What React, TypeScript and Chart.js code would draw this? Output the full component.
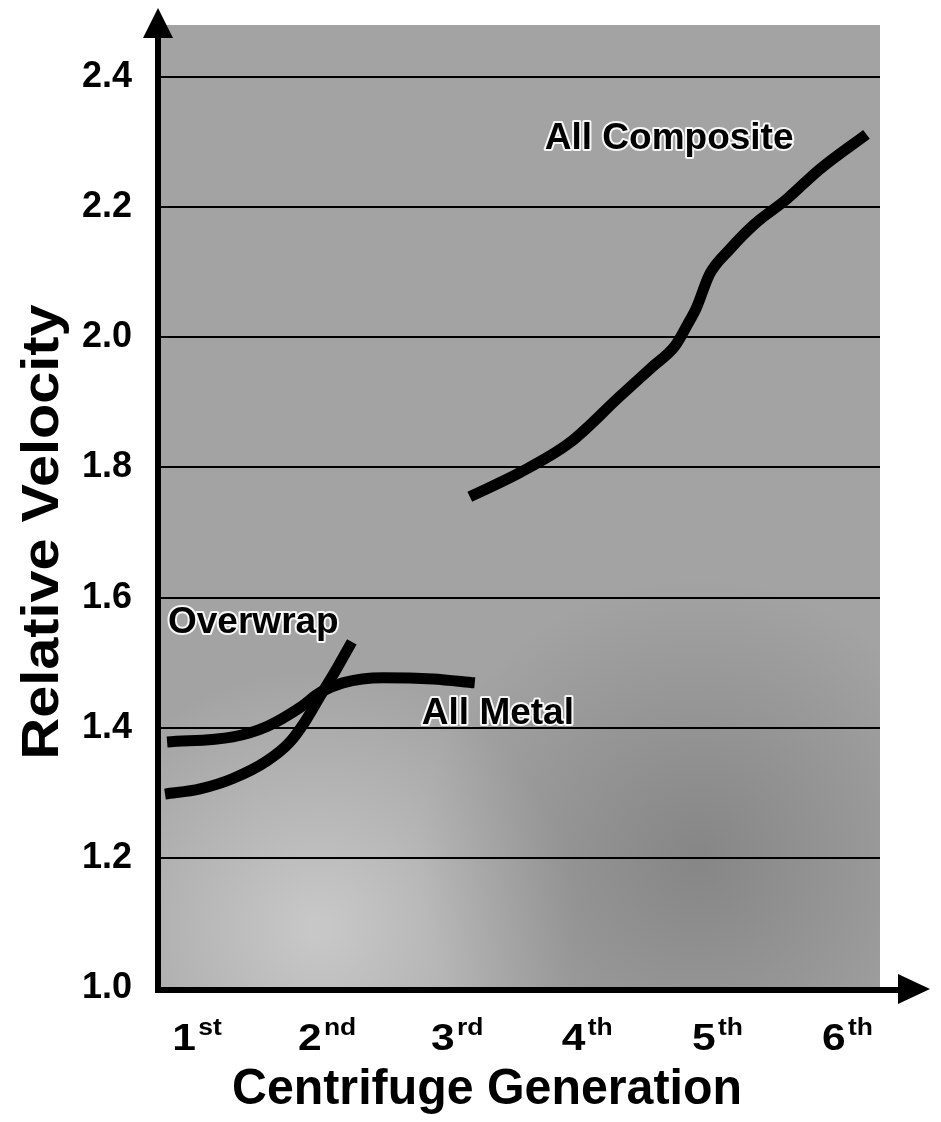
import React, { useEffect, useRef } from "react";
import { Chart, registerables } from "chart.js";

Chart.register(...registerables);

// ---------- data ----------
const generationLabels = ["1st", "2nd", "3rd", "4th", "5th", "6th"];
const generationValues = [1, 2, 3, 4, 5, 6];
const velocityTicks = [1.0, 1.2, 1.4, 1.6, 1.8, 2.0, 2.2, 2.4];

const seriesNames = ["All Metal", "Overwrap", "All Composite"];

const allMetalX = [0.77, 1.276, 1.538, 1.791, 1.945, 2.121, 2.429, 2.813, 3.135];
const allMetalY = [1.378, 1.386, 1.402, 1.431, 1.454, 1.469, 1.477, 1.475, 1.469];

const overwrapX = [0.754, 1.023, 1.276, 1.538, 1.714, 1.829, 1.945, 2.06, 2.19];
const overwrapY = [1.298, 1.306, 1.322, 1.349, 1.378, 1.409, 1.448, 1.486, 1.532];

const compositeX = [3.097, 3.481, 3.865, 4.249, 4.502, 4.671, 4.771, 4.84, 4.94, 5.094, 5.286, 5.531, 5.785, 6.146];
const compositeY = [1.755, 1.792, 1.838, 1.909, 1.955, 1.986, 2.02, 2.046, 2.097, 2.135, 2.174, 2.212, 2.258, 2.312];

const xTitle = "Centrifuge Generation";
const yTitle = "Relative Velocity";

// annotation text anchors (data coordinates)
const annotationTexts = ["All Composite", "Overwrap", "All Metal"];
const annotationX = [3.673, 0.777, 2.728];
const annotationY = [2.289, 1.546, 1.405];

const FONT = "'Liberation Sans', Arial, Helvetica, sans-serif";

function toPoints(xs: number[], ys: number[]) {
  return xs.map((x, i) => ({ x, y: ys[i] }));
}

const decorPlugin = {
  id: "decor",
  beforeDraw(chart: any) {
    const { ctx, chartArea: a } = chart;
    ctx.save();
    ctx.fillStyle = "#a3a3a3";
    ctx.fillRect(a.left, a.top, a.right - a.left, a.bottom - a.top);
    const g1 = ctx.createRadialGradient(a.left + 160, a.bottom - 60, 10, a.left + 160, a.bottom - 60, 260);
    g1.addColorStop(0, "rgba(235,235,235,0.5)");
    g1.addColorStop(1, "rgba(235,235,235,0)");
    ctx.fillStyle = g1;
    ctx.fillRect(a.left, a.top, a.right - a.left, a.bottom - a.top);
    const g2 = ctx.createRadialGradient(a.left + 540, a.bottom - 130, 10, a.left + 540, a.bottom - 130, 280);
    g2.addColorStop(0, "rgba(70,70,70,0.3)");
    g2.addColorStop(1, "rgba(70,70,70,0)");
    ctx.fillStyle = g2;
    ctx.fillRect(a.left, a.top, a.right - a.left, a.bottom - a.top);
    ctx.restore();
  },
  afterDatasetsDraw(chart: any) {
    const { ctx } = chart;
    const xs = chart.scales.x;
    const ys = chart.scales.y;
    ctx.save();
    ctx.font = `bold 37px ${FONT}`;
    ctx.textAlign = "left";
    ctx.textBaseline = "alphabetic";
    ctx.lineJoin = "round";
    annotationTexts.forEach((t, i) => {
      const px = xs.getPixelForValue(annotationX[i]);
      const py = ys.getPixelForValue(annotationY[i]);
      ctx.strokeStyle = "rgba(255,255,255,0.9)";
      ctx.lineWidth = 4;
      ctx.strokeText(t, px, py);
      ctx.fillStyle = "#000";
      ctx.fillText(t, px, py);
    });
    ctx.restore();
  },
  afterDraw(chart: any) {
    const { ctx, chartArea: a } = chart;
    const xs = chart.scales.x;
    ctx.save();
    ctx.fillStyle = "#000";
    ctx.strokeStyle = "#000";
    // y axis with arrow
    ctx.lineWidth = 6;
    ctx.beginPath();
    ctx.moveTo(a.left, a.bottom + 5);
    ctx.lineTo(a.left, a.top + 10);
    ctx.stroke();
    ctx.beginPath();
    ctx.moveTo(a.left, a.top - 17);
    ctx.lineTo(a.left - 15, a.top + 13);
    ctx.lineTo(a.left + 15, a.top + 13);
    ctx.closePath();
    ctx.fill();
    // x axis with arrow
    ctx.beginPath();
    ctx.moveTo(a.left - 3, a.bottom + 2);
    ctx.lineTo(a.right + 22, a.bottom + 2);
    ctx.stroke();
    ctx.beginPath();
    ctx.moveTo(a.right + 50, a.bottom + 1);
    ctx.lineTo(a.right + 18, a.bottom - 14);
    ctx.lineTo(a.right + 18, a.bottom + 16);
    ctx.closePath();
    ctx.fill();

    // x tick labels with superscript suffixes
    const sx = 1.15;
    generationLabels.forEach((lab, i) => {
      const px = xs.getPixelForValue(generationValues[i]);
      const num = lab.replace(/\D+$/, "");
      const suf = lab.slice(num.length);
      ctx.font = `bold 37px ${FONT}`;
      const w1 = ctx.measureText(num).width;
      ctx.font = `bold 23px ${FONT}`;
      const w2 = ctx.measureText(suf).width;
      const total = (w1 + 2 + w2) * sx;
      ctx.save();
      ctx.translate(px - total / 2, 0);
      ctx.scale(sx, 1);
      ctx.textAlign = "left";
      ctx.textBaseline = "alphabetic";
      ctx.font = `bold 37px ${FONT}`;
      ctx.fillText(num, 0, a.bottom + 62);
      ctx.font = `bold 23px ${FONT}`;
      ctx.fillText(suf, w1 + 2, a.bottom + 47);
      ctx.restore();
    });

    // x title
    ctx.save();
    ctx.font = `bold 50px ${FONT}`;
    const tw = ctx.measureText(xTitle).width;
    const targetW = 510;
    ctx.translate(487 - targetW / 2, a.bottom + 116);
    ctx.scale(targetW / tw, 1);
    ctx.textAlign = "left";
    ctx.textBaseline = "alphabetic";
    ctx.fillText(xTitle, 0, 0);
    ctx.restore();

    // y title
    ctx.save();
    ctx.font = `bold 52px ${FONT}`;
    const yw = ctx.measureText(yTitle).width;
    const targetH = 455;
    ctx.translate(44, 532);
    ctx.rotate(-Math.PI / 2);
    ctx.scale(targetH / yw, 1);
    ctx.textAlign = "center";
    ctx.textBaseline = "middle";
    ctx.fillText(yTitle, 0, 0);
    ctx.restore();

    ctx.restore();
  },
};

export default function App() {
  const ref = useRef<HTMLCanvasElement>(null);
  useEffect(() => {
    const seriesX = [allMetalX, overwrapX, compositeX];
    const seriesY = [allMetalY, overwrapY, compositeY];
    const chart = new Chart(ref.current as HTMLCanvasElement, {
      type: "scatter",
      data: {
        datasets: seriesNames.map((name, i) => ({
          label: name,
          data: toPoints(seriesX[i], seriesY[i]),
          showLine: true,
          borderColor: "#000",
          backgroundColor: "#000",
          borderWidth: 11,
          pointRadius: 0,
          cubicInterpolationMode: "monotone",
          borderCapStyle: "butt",
          fill: false,
        })),
      },
      options: {
        responsive: false,
        animation: false,
        events: [],
        layout: { padding: { left: 0, right: 61, top: 25, bottom: 0 } },
        plugins: {
          legend: { display: false },
          tooltip: { enabled: false },
          title: { display: false },
        },
        scales: {
          x: {
            type: "linear",
            min: 0.7,
            max: 6.25,
            afterBuildTicks: (s: any) => {
              s.ticks = generationValues.map((v) => ({ value: v }));
            },
            afterFit: (s: any) => {
              s.height = 134;
              s.paddingLeft = 0;
              s.paddingRight = 0;
            },
            ticks: { display: false },
            grid: { display: false },
            border: { display: false },
          },
          y: {
            type: "linear",
            min: 1.0,
            max: 2.48,
            afterBuildTicks: (s: any) => {
              s.ticks = velocityTicks.map((v) => ({ value: v }));
            },
            afterFit: (s: any) => {
              s.width = 158;
              s.paddingTop = 0;
              s.paddingBottom = 0;
            },
            ticks: {
              color: "#000",
              padding: 26,
              font: { family: FONT, size: 36, weight: "bold" },
              callback: (v: any) => Number(v).toFixed(1),
            },
            grid: {
              color: (c: any) => (c.tick && c.tick.value <= 1.0001 ? "rgba(0,0,0,0)" : "#000"),
              lineWidth: 2,
              drawTicks: false,
            },
            border: { display: false },
          },
        },
      } as any,
      plugins: [decorPlugin],
    });
    return () => chart.destroy();
  }, []);
  return (
    <div style={{ position: "absolute", left: 0, top: 0, width: 941, height: 1122 }}>
      <canvas ref={ref} width={941} height={1122} style={{ display: "block", width: 941, height: 1122 }} />
    </div>
  );
}
